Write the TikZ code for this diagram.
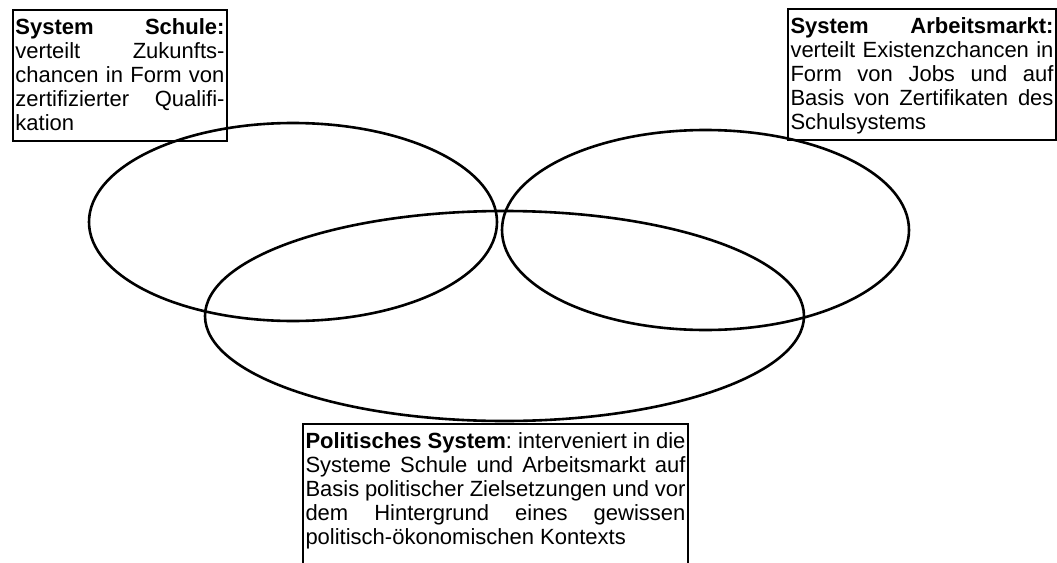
\documentclass[tikz,border=0pt]{standalone}
\usepackage{fontspec}
\setmainfont{Liberation Sans}
\usetikzlibrary{shapes.geometric}
\newcommand\lstr{\vrule height 19pt depth 5pt width 0pt}
\newcommand\jline[1]{\hbox to \hsize{\spaceskip=0.278em plus 1fil minus 0.12em\xspaceskip=\spaceskip\lstr#1}}
\newcommand\lline[1]{\hbox to \hsize{\spaceskip=0.278em\xspaceskip=\spaceskip\lstr#1\hfil}}
\begin{document}
\begin{tikzpicture}[x=1pt,y=-1pt,
  tbox/.style={draw, line width=2pt, anchor=north west, inner xsep=2.5pt,
    inner ysep=5.5pt, align=left, font=\fontsize{22pt}{24pt}\selectfont},
  sys/.style={draw, ellipse, line width=2.6pt, inner sep=0pt}]
\useasboundingbox (0,0) rectangle (1057,562);
\clip (0,0) rectangle (1057,562);
\fill[white] (0,0) rectangle (1057,562);
% Systems (ellipses)
\node[sys, minimum width=408pt, minimum height=198pt] (schulell) at (293,222) {};
\node[sys, minimum width=407pt, minimum height=200pt] (arbeitell) at (705.5,230) {};
\node[sys, minimum width=599pt, minimum height=210pt] (politell) at (504.5,316) {};
% Text boxes
\node[tbox, text width=209pt] (schule) at (12,9) {%
\jline{\textbf{System Schule:}}
\jline{verteilt Zukunfts-}
\jline{chancen in Form von}
\jline{zertifizierter Qualifi-}
\lline{kation}};
\node[tbox, text width=263pt] (arbeit) at (787,8) {%
\jline{\textbf{System Arbeitsmarkt:}}
\jline{verteilt Existenzchancen in}
\jline{Form von Jobs und auf}
\jline{Basis von Zertifikaten des}
\lline{Schulsystems}};
\node[tbox, text width=380pt] (politik) at (302,423) {%
\jline{\textbf{Politisches System}: interveniert in die}
\jline{Systeme Schule und Arbeitsmarkt auf}
\jline{Basis politischer Zielsetzungen und vor}
\jline{dem Hintergrund eines gewissen}
\lline{politisch-ökonomischen Kontexts}
\lline{}};
\end{tikzpicture}
\end{document}
